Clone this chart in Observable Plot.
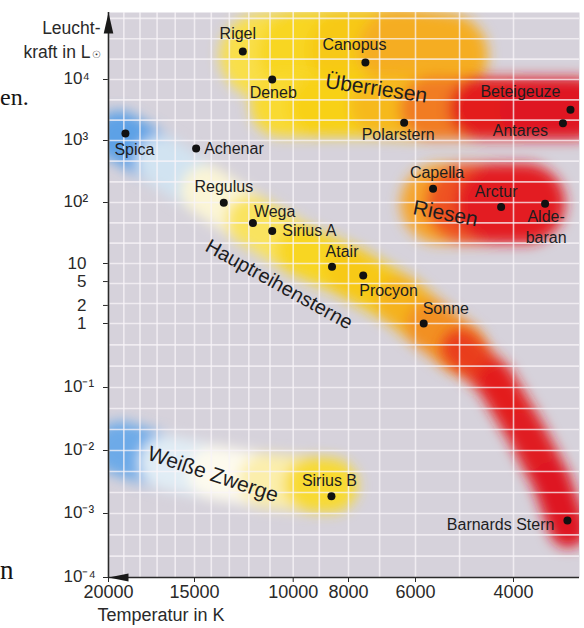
<!DOCTYPE html>
<html>
<head>
<meta charset="utf-8">
<script src="https://cdn.jsdelivr.net/npm/d3@7"></script>
<script src="https://cdn.jsdelivr.net/npm/@observablehq/plot@0.6"></script>
<style>
  body { margin: 0; background: #fff; }
  #wrap { position: relative; width: 584px; height: 628px; overflow: hidden; }
  .stray { position: absolute; font-family: "Liberation Serif", "Times New Roman", serif; color: #151515; white-space: nowrap; }
</style>
</head>
<body>
<div id="wrap">
  <div id="chart"></div>
  <span class="stray" style="left:0px; top:85px; font-size:24px; line-height:24px;">en.</span>
  <span class="stray" style="left:0px; top:557px; font-size:27px; line-height:27px;">n</span>
</div>
<script>
// ---------- data ----------
const stars = [
  {name: "Rigel", T: 12300, L: 28800},
  {name: "Canopus", T: 7440, L: 19000},
  {name: "Deneb", T: 10900, L: 10000},
  {name: "Polarstern", T: 6300, L: 1950},
  {name: "Beteigeuze", T: 3160, L: 3190},
  {name: "Antares", T: 3260, L: 1920},
  {name: "Spica", T: 18900, L: 1300},
  {name: "Achenar", T: 14900, L: 740},
  {name: "Regulus", T: 13300, L: 99},
  {name: "Wega", T: 11800, L: 46},
  {name: "Sirius A", T: 10900, L: 34},
  {name: "Atair", T: 8550, L: 8.8},
  {name: "Procyon", T: 7510, L: 6.3},
  {name: "Sonne", T: 5800, L: 1.0},
  {name: "Capella", T: 5580, L: 166},
  {name: "Arctur", T: 4210, L: 84},
  {name: "Aldebaran", T: 3510, L: 95},
  {name: "Sirius B", T: 8570, L: 0.00188},
  {name: "Barnards Stern", T: 3200, L: 0.00078}
];

const regions = [
  {name: "Überriesen", T: 7100, L: 7100},
  {name: "Riesen", T: 5300, L: 66},
  {name: "Hauptreihensterne", T: 10600, L: 4.47},
  {name: "Weiße Zwerge", T: 13900, L: 0.00416}
];

// region bands (centre lines)
const mainSequenceUpper = [
  {T: 19300, L: 1200}, {T: 16800, L: 480}, {T: 14300, L: 156}, {T: 11900, L: 51},
  {T: 9700, L: 16.3}, {T: 7930, L: 7.1}, {T: 6400, L: 2.4}, {T: 5640, L: 0.93}, {T: 4980, L: 0.41}
];
const mainSequenceLower = [
  {T: 4980, L: 0.41}, {T: 4325, L: 0.13}, {T: 3820, L: 0.021}, {T: 3420, L: 0.0033}, {T: 3190, L: 0.00058}
];
const superGiantTop = [
  {T: 11340, L: 24700}, {T: 9710, L: 27700}, {T: 7930, L: 29900}, {T: 6400, L: 29900}, {T: 5300, L: 24700}
];
const superGiantBottom = [
  {T: 10500, L: 3750}, {T: 8960, L: 3750}, {T: 6970, L: 3750}, {T: 5640, L: 3350},
  {T: 4590, L: 3350}, {T: 3730, L: 3350}, {T: 3100, L: 3350}
];
const giantBand = [
  {T: 5410, L: 96}, {T: 4880, L: 96}, {T: 4310, L: 96}, {T: 3810, L: 96}
];
const whiteDwarfBand = [
  {T: 19200, L: 0.0108}, {T: 16500, L: 0.00645}, {T: 13800, L: 0.00448},
  {T: 11200, L: 0.00334}, {T: 9300, L: 0.00289}, {T: 8600, L: 0.00278}
];

// axes
const xTicks = [20000, 15000, 10000, 8000, 6000, 4000];
const yTicks = [1e4, 1e3, 1e2, 10, 5, 2, 1, 0.1, 0.01, 0.001, 0.0001];
const yTickLabels = ["10⁴", "10³", "10²", "10", "5", "2", "1", "10⁻¹", "10⁻²", "10⁻³", "10⁻⁴"];
const xLabel = "Temperatur in K";
const yLabel = ["Leucht-", "kraft in L"];
const sunSymbol = "☉";
const gridT = [20000, 19000, 18000, 17000, 16000, 15000, 14000, 13000, 12000, 11000, 10000, 9000, 8000, 7000, 6000, 5000, 4000];
const gridMantissa = [1, 2.154, 4.642];
const gridDecades = [-4, -3, -2, -1, 0, 1, 2, 3, 4, 5];

// ---------- layout (scale anchors, label placement, styles) ----------
const xAnchorT = [20000, 15000, 10000, 8000, 6000, 4000];
const xAnchorPx = [108, 194, 292.7, 348, 415, 513];
const yAnchorL = [1e-4, 1e-3, 1e-2, 1e-1, 1, 10, 100, 1e3, 1e4, 1.25e5];
const yAnchorPx = [577, 513, 450, 387, 323, 263, 202, 140, 79, 12];

const labelLayout = {
  "Rigel": ["middle", -5, -19],
  "Canopus": ["middle", -11, -19],
  "Deneb": ["middle", 1, 12],
  "Polarstern": ["middle", -6, 11],
  "Beteigeuze": ["end", -10, -19],
  "Antares": ["end", -15, 6],
  "Spica": ["middle", 9, 15],
  "Achenar": ["start", 8, -1],
  "Regulus": ["middle", 0, -17],
  "Wega": ["start", 1, -13],
  "Sirius A": ["start", 10, -2],
  "Atair": ["middle", 10, -16],
  "Procyon": ["start", -4, 14],
  "Sonne": ["start", -1, -16],
  "Capella": ["middle", 4, -18],
  "Arctur": ["middle", -5, -17],
  "Aldebaran": ["middle", 1, 22, "Alde-\nbaran"],
  "Sirius B": ["middle", -2, -17],
  "Barnards Stern": ["end", -13, 3]
};
const regionLayout = {
  "Überriesen": {rotate: 8.5, size: 21},
  "Riesen": {rotate: 11, size: 21},
  "Hauptreihensterne": {rotate: 29, size: 20},
  "Weiße Zwerge": {rotate: 18.5, size: 21}
};

const FONT = "'Liberation Sans', Arial, Helvetica, sans-serif";
const INK = "#1d1d1f";

const msColor = d3.scaleLog()
  .domain([19000, 16500, 14500, 12000, 10300, 7500, 6200, 5500, 4900, 4500, 3000])
  .range(["#2f86e0", "#a8cdf0", "#fcfaf2", "#faf1c0", "#f9dd38", "#f8cf10", "#f6b81c", "#f4a224", "#ef6a1e", "#e5221f", "#dc1520"])
  .clamp(true);
const giantColor = d3.scaleLog()
  .domain([5200, 4600, 4100])
  .range(["#f7ad2a", "#ee5520", "#e31a22"])
  .clamp(true);
const wdColor = d3.scaleLog()
  .domain([19000, 16200, 14000, 11300, 10000, 9200, 8500])
  .range(["#2f86e0", "#c6def4", "#fdfcf6", "#fdf9e8", "#faeca0", "#f8dc3a", "#f8d620"])
  .clamp(true);

function bandLinks(points, colorFn) {
  return d3.pairs(points).map(([a, b]) => ({
    T1: a.T, L1: a.L, T2: b.T, L2: b.L, color: colorFn(Math.sqrt(a.T * b.T))
  }));
}
function band(points, colorFn, width) {
  return Plot.link(bandLinks(points, colorFn), {
    x1: "T1", y1: "L1", x2: "T2", y2: "L2",
    stroke: "color", strokeWidth: width, strokeLinecap: "round",
    clip: true
  });
}

const gridL = gridDecades.flatMap(e => gridMantissa.map(m => m * Math.pow(10, e)));
const yTickRows = yTicks.map((v, i) => ({v, label: yTickLabels[i]}));
const isPower = d => d.label.startsWith("10") && d.label.length > 2;

const starLabelMarks = stars.map(s => {
  const [anchor, dx, dy, text] = labelLayout[s.name];
  return Plot.text([s], {
    x: "T", y: "L", text: () => text || s.name,
    textAnchor: anchor, dx, dy, fontSize: 16, lineHeight: 1.3, fill: INK
  });
});
const regionLabelMarks = regions.map(r => Plot.text([r], {
  x: "T", y: "L", text: "name", rotate: regionLayout[r.name].rotate,
  fontSize: regionLayout[r.name].size, fill: INK
}));

const plot = Plot.plot({
  width: 584, height: 628,
  marginLeft: 108, marginRight: 5, marginTop: 12, marginBottom: 51,
  style: {fontFamily: FONT, fontSize: "18px", color: "#2a2a2a", overflow: "visible"},
  x: {type: "log", domain: xAnchorT, range: xAnchorPx, ticks: xTicks, tickFormat: d => String(d),
      tickSize: 5, tickPadding: 3, label: null},
  y: {type: "log", domain: yAnchorL, range: yAnchorPx, ticks: yTicks, tickFormat: () => "",
      tickSize: 5, label: null},
  color: {type: "identity"},
  marks: [
    Plot.frame({fill: "#d6d2db", stroke: "none"}),
    band(superGiantTop, msColor, 85),
    band(superGiantBottom, msColor, 62),
    band(giantBand, giantColor, 80),
    band(mainSequenceUpper, msColor, 50),
    band(mainSequenceLower, msColor, 38),
    band(whiteDwarfBand, wdColor, 54),
    Plot.ruleX(gridT, {stroke: "#f8f4f8", strokeOpacity: 0.75, strokeWidth: 1.6}),
    Plot.ruleY(gridL.filter(v => v > 1e-4 && v < 1.25e5), {stroke: "#f8f4f8", strokeOpacity: 0.75, strokeWidth: 1.6}),
    Plot.ruleX([xAnchorT[0]], {stroke: "#2a2a2a", strokeWidth: 1.6}),
    Plot.ruleY([yAnchorL[0]], {stroke: "#2a2a2a", strokeWidth: 1.6}),
    Plot.vector([{T: xAnchorT[0], L: yAnchorL[yAnchorL.length - 1]}], {
      x: "T", y: "L", shape: "spike", anchor: "end", length: 21, r: 4.8, rotate: 0,
      fill: "#1a1a1a", stroke: "none"
    }),
    Plot.vector([{T: xAnchorT[0], L: yAnchorL[0]}], {
      x: "T", y: "L", shape: "spike", anchor: "end", length: 20, r: 4, rotate: -90,
      fill: "#1a1a1a", stroke: "none"
    }),
    ...regionLabelMarks,
    Plot.dot(stars, {x: "T", y: "L", r: 4, fill: "#111", stroke: "none"}),
    ...starLabelMarks,
    Plot.text(yTickRows.filter(isPower), {
      y: "v", text: "label", frameAnchor: "left", dx: -45, dy: -1, textAnchor: "start", fontSize: 17, fill: "#2a2a2a"
    }),
    Plot.text(yTickRows.filter(d => !isPower(d)), {
      y: "v", text: "label", frameAnchor: "left", dx: -22, textAnchor: "end", fontSize: 17, fill: "#2a2a2a"
    }),
    Plot.text([yLabel[0]], {text: d => d, frameAnchor: "top-left", dx: -8, dy: 9, textAnchor: "end", fontSize: 17.5, fill: "#2a2a2a"}),
    Plot.text([yLabel[1]], {text: d => d, frameAnchor: "top-left", dx: -18, dy: 33, textAnchor: "end", fontSize: 17.5, fill: "#2a2a2a"}),
    Plot.text([sunSymbol], {text: d => d, frameAnchor: "top-left", dx: -12, dy: 38, textAnchor: "middle", fontSize: 10, fill: "#2a2a2a"}),
    Plot.text([xLabel], {text: d => d, frameAnchor: "bottom-left", dx: -11, dy: 43, textAnchor: "start", fontSize: 18, fill: "#2a2a2a"})
  ]
});

// soft edges for the coloured regions (filter region in user space so flat bands are not cut)
const ns = "http://www.w3.org/2000/svg";
const defs = document.createElementNS(ns, "defs");
defs.innerHTML = '<filter id="soft" filterUnits="userSpaceOnUse" x="-50" y="-50" width="700" height="750"><feGaussianBlur stdDeviation="6.5"/></filter>';
plot.insertBefore(defs, plot.firstChild);
plot.querySelectorAll('g[aria-label="link"]').forEach(g => {
  const wrapper = document.createElementNS(ns, "g");
  const clip = g.getAttribute("clip-path");
  if (clip) { wrapper.setAttribute("clip-path", clip); g.removeAttribute("clip-path"); }
  g.parentNode.insertBefore(wrapper, g);
  wrapper.appendChild(g);
  g.setAttribute("filter", "url(#soft)");
});

document.getElementById("chart").appendChild(plot);
</script>
</body>
</html>
